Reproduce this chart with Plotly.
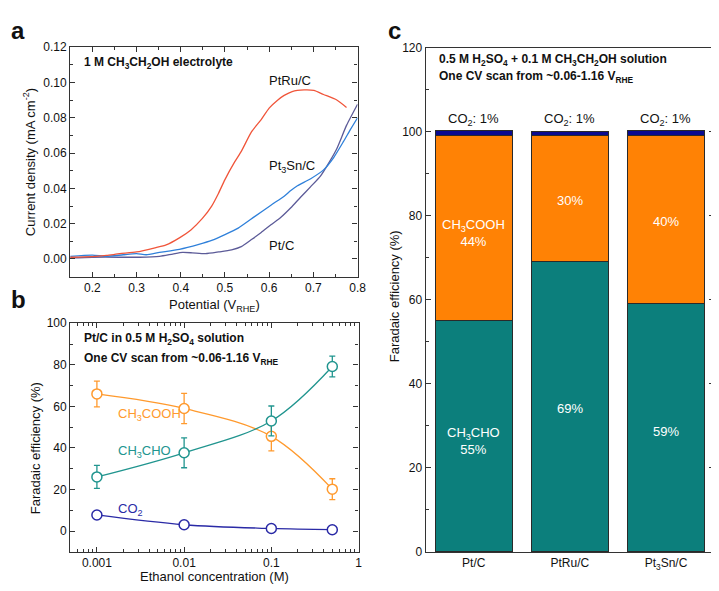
import plotly.graph_objects as go

W, H = 719, 591

# ---------------- Panel a data ----------------
ptru_x = [0.15, 0.2, 0.232, 0.262, 0.3, 0.344, 0.367, 0.397, 0.423, 0.449, 0.47, 0.485, 0.5, 0.522,
          0.537, 0.56, 0.582, 0.6, 0.619, 0.634, 0.652, 0.679, 0.701, 0.723, 0.753, 0.775]
ptru_y = [0.001, 0.0013, 0.002, 0.003, 0.004, 0.0065, 0.008, 0.012, 0.0165, 0.023, 0.030, 0.037, 0.045,
          0.055, 0.061, 0.072, 0.079, 0.0855, 0.090, 0.0927, 0.0949, 0.0958, 0.0955, 0.0932, 0.0901, 0.0859]
pt3sn_x = [0.15, 0.2, 0.232, 0.27, 0.3, 0.322, 0.352, 0.397, 0.441, 0.47, 0.5, 0.53, 0.567, 0.604,
           0.634, 0.649, 0.664, 0.694, 0.723, 0.746, 0.768, 0.783, 0.8]
pt3sn_y = [0.0015, 0.0022, 0.0015, 0.0024, 0.003, 0.0024, 0.0037, 0.0055, 0.0083, 0.0105, 0.0138, 0.0175,
           0.024, 0.0305, 0.0356, 0.0388, 0.0415, 0.0455, 0.0505, 0.0575, 0.0665, 0.073, 0.080]
ptc_x = [0.15, 0.2, 0.26, 0.307, 0.352, 0.382, 0.404, 0.426, 0.456, 0.486, 0.515, 0.537, 0.56, 0.582,
         0.604, 0.626, 0.649, 0.671, 0.694, 0.716, 0.735, 0.753, 0.775, 0.8]
ptc_y = [0.0006, 0.001, 0.001, 0.001, 0.0015, 0.0028, 0.0037, 0.0035, 0.003, 0.004, 0.0052, 0.007, 0.011,
         0.015, 0.0194, 0.0235, 0.029, 0.035, 0.041, 0.047, 0.0545, 0.0625, 0.0757, 0.0877]

# ---------------- Panel b data ----------------
conc = [0.001, 0.01, 0.1, 0.5]
fe_acoh = [66, 59, 45.6, 20.2]
fe_acoh_err = [6.2, 7.3, 7.0, 5.0]
fe_ald = [26.1, 37.7, 53, 79.2]
fe_ald_err = [5.5, 7.2, 7.2, 5.0]
fe_co2 = [7.8, 3.1, 1.3, 0.7]
fe_co2_err = [1.5, 0.8, 0.8, 0.8]
conc_ticks = [0.001, 0.01, 0.1, 1]
conc_labels = ["0.001", "0.01", "0.1", "1"]
conc_minor = [m * d for d in [0.0001, 0.001, 0.01, 0.1] for m in range(2, 10)]

# ---------------- Panel c data ----------------
catalysts = ["Pt/C", "PtRu/C", "Pt<sub>3</sub>Sn/C"]
c_ald = [55, 69, 59]
c_acoh = [44, 30, 40]
c_co2 = [1.3, 1.1, 1.2]

FONT = "Arial, Liberation Sans, sans-serif"
C_RED = "#F0553A"
C_BLUE = "#2F80DA"
C_PURP = "#5C5B98"
C_ORANGE_L = "#FF9A2E"
C_TEAL_L = "#21958F"
C_NAVY_L = "#2A2AA6"
C_TEAL = "#0C7F7C"
C_ORANGE = "#FF8205"
C_NAVY = "#0A0A90"
AX = "#333333"

def px_x(p):
    return p / W

def px_y(p):
    return 1 - p / H

fig = go.Figure()

# Panel a
for xs, ys, col in [(ptc_x, ptc_y, C_PURP), (pt3sn_x, pt3sn_y, C_BLUE), (ptru_x, ptru_y, C_RED)]:
    fig.add_trace(go.Scatter(x=xs, y=ys, mode="lines", line=dict(color=col, width=1.3, shape="spline", smoothing=0.6),
                             xaxis="x", yaxis="y", showlegend=False))

# Panel b
for ys, es, col in [(fe_acoh, fe_acoh_err, C_ORANGE_L), (fe_ald, fe_ald_err, C_TEAL_L), (fe_co2, fe_co2_err, C_NAVY_L)]:
    fig.add_trace(go.Scatter(x=conc, y=ys, mode="lines+markers",
                             line=dict(color=col, width=1.3, shape="spline", smoothing=1),
                             marker=dict(symbol="circle", size=10, color="white", line=dict(color=col, width=1.5)),
                             error_y=dict(type="data", array=es, color=col, thickness=1.3, width=3),
                             xaxis="x2", yaxis="y2", showlegend=False))

# Panel c
for vals, col in [(c_ald, C_TEAL), (c_acoh, C_ORANGE), (c_co2, C_NAVY)]:
    fig.add_trace(go.Bar(x=catalysts, y=vals, marker=dict(color=col, line=dict(color="#2a2a2a", width=1)),
                         xaxis="x3", yaxis="y3", showlegend=False))

axis_common = dict(showline=True, linecolor=AX, linewidth=1.2, mirror="ticks", ticks="inside", ticklen=5,
                   tickcolor=AX, tickwidth=1, showgrid=False, zeroline=False,
                   tickfont=dict(family=FONT, size=12, color="#111"))

fig.update_layout(
    width=W, height=H, margin=dict(l=0, r=0, t=0, b=0),
    paper_bgcolor="white", plot_bgcolor="white",
    barmode="stack", bargap=0.2,
    font=dict(family=FONT, size=12, color="#111"),
    xaxis=dict(domain=[px_x(63), px_x(354)], anchor="y", range=[0.15, 0.8], dtick=0.1, tick0=0.2,
               tickformat=".1f", minor=dict(ticks="inside", ticklen=3, dtick=0.05, tickcolor=AX), **axis_common),
    yaxis=dict(domain=[px_y(268), px_y(33)], anchor="x", range=[-0.01, 0.12], dtick=0.02, tick0=0,
               tickformat=".2f", minor=dict(ticks="inside", ticklen=3, dtick=0.01, tickcolor=AX), **axis_common),
    xaxis2=dict(domain=[px_x(63), px_x(355)], anchor="y2", type="log", range=[-3.306, 0],
                tickmode="array", tickvals=conc_ticks, ticktext=conc_labels,
                minor=dict(ticks="inside", ticklen=3, tickcolor=AX, tickmode="array", tickvals=conc_minor),
                **axis_common),
    yaxis2=dict(domain=[px_y(550), px_y(315.7)], anchor="x2", range=[-10, 100], tickvals=[0, 20, 40, 60, 80, 100],
                minor=dict(ticks="inside", ticklen=3, dtick=10, tickcolor=AX), **axis_common),
    xaxis3=dict(domain=[px_x(423), px_x(715)], anchor="y3", **{**axis_common, "ticks": ""}),
    yaxis3=dict(domain=[px_y(550), px_y(33.3)], anchor="x3", range=[0, 120], dtick=20,
                minor=dict(ticks="inside", ticklen=3, dtick=10, tickcolor=AX), **axis_common),
)

ann = []
def A(text, x, y, xref="paper", yref="paper", size=12, color="#111", xanchor="center", yanchor="middle",
      textangle=0, bold=False, align="center"):
    if bold:
        text = "<b>" + text + "</b>"
    ann.append(dict(text=text, x=x, y=y, xref=xref, yref=yref, showarrow=False,
                    font=dict(family=FONT, size=size, color=color), xanchor=xanchor, yanchor=yanchor,
                    textangle=textangle, align=align))

# Panel letters
A("a", px_x(1), 1.0, size=24, xanchor="left", yanchor="top", bold=True)
A("b", px_x(1), px_y(291), size=24, xanchor="left", bold=True)
A("c", px_x(383), 1.0, size=24, xanchor="left", yanchor="top", bold=True)

# Axis titles
A("Current density (mA cm<sup>-2</sup>)", px_x(22), px_y(151), size=13, textangle=-90)
A("Potential (V<sub>RHE</sub>)", px_x(209), px_y(298), size=13)
A("Faradaic efficiency (%)", px_x(28), px_y(444), size=13, textangle=-90)
A("Ethanol concentration (M)", px_x(209), px_y(575), size=13)
A("Faradaic efficiency (%)", px_x(391), px_y(288), size=13, textangle=-90)

# Panel a labels
A("1 M CH<sub>3</sub>CH<sub>2</sub>OH electrolyte", px_x(75), px_y(49), xanchor="left", bold=True)
A("PtRu/C", px_x(262), px_y(67), xanchor="left", size=13)
A("Pt<sub>3</sub>Sn/C", px_x(262), px_y(155), xanchor="left", size=13)
A("Pt/C", px_x(262), px_y(236), xanchor="left", size=13)

# Panel b labels
A("Pt/C in 0.5 M H<sub>2</sub>SO<sub>4</sub> solution", px_x(75), px_y(332), xanchor="left", bold=True)
A("One CV scan from ~0.06-1.16 V<sub>RHE</sub>", px_x(75), px_y(352), xanchor="left", bold=True)
A("CH<sub>3</sub>COOH", px_x(109), px_y(409), xanchor="left", size=13, color=C_ORANGE_L)
A("CH<sub>3</sub>CHO", px_x(109), px_y(447), xanchor="left", size=13, color=C_TEAL_L)
A("CO<sub>2</sub>", px_x(109), px_y(506), xanchor="left", size=13, color=C_NAVY_L)

# Panel c labels
A("0.5 M H<sub>2</sub>SO<sub>4</sub> + 0.1 M CH<sub>3</sub>CH<sub>2</sub>OH solution", px_x(434), px_y(46), xanchor="left", bold=True)
A("One CV scan from ~0.06-1.16 V<sub>RHE</sub>", px_x(434), px_y(64), xanchor="left", bold=True)
for cat in catalysts:
    A("CO<sub>2</sub>: 1%", cat, 102.8, xref="x3", yref="y3", size=13)
A("CH<sub>3</sub>COOH<br>44%", catalysts[0], 75.8, xref="x3", yref="y3", size=13, color="white")
A("30%", catalysts[1], 83.6, xref="x3", yref="y3", size=13, color="white")
A("40%", catalysts[2], 78.6, xref="x3", yref="y3", size=13, color="white")
A("CH<sub>3</sub>CHO<br>55%", catalysts[0], 26.4, xref="x3", yref="y3", size=13, color="white")
A("69%", catalysts[1], 34.1, xref="x3", yref="y3", size=13, color="white")
A("59%", catalysts[2], 28.6, xref="x3", yref="y3", size=13, color="white")

fig.update_layout(annotations=ann)
fig.write_html("out.html")
